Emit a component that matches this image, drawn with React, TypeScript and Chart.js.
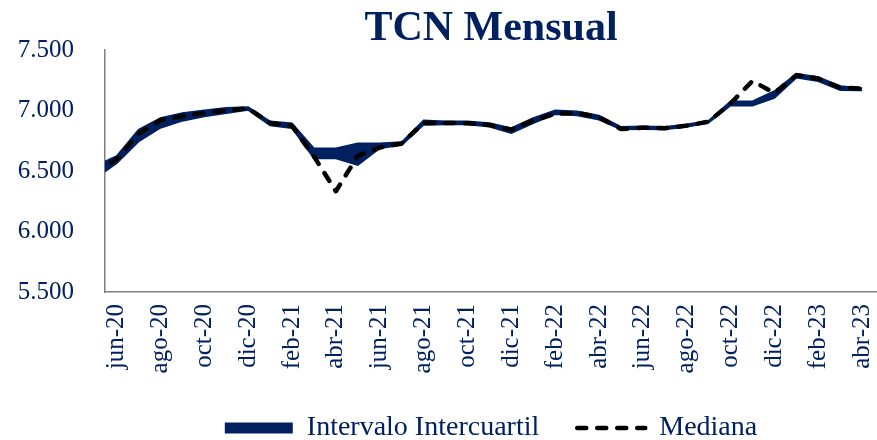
import React, { useEffect, useRef } from "react";
import { Chart, registerables } from "chart.js";

Chart.register(...registerables);

const months = [
  "may-20", "jun-20", "jul-20", "ago-20", "sep-20", "oct-20", "nov-20", "dic-20",
  "ene-21", "feb-21", "mar-21", "abr-21", "may-21", "jun-21", "jul-21", "ago-21",
  "sep-21", "oct-21", "nov-21", "dic-21", "ene-22", "feb-22", "mar-22", "abr-22",
  "may-22", "jun-22", "jul-22", "ago-22", "sep-22", "oct-22", "nov-22", "dic-22",
  "ene-23", "feb-23", "mar-23", "abr-23",
];

const lowerQuartile = [
  6434, 6562, 6742, 6856, 6914, 6950, 6978, 7004,
  6875, 6853, 6603, 6603, 6548, 6687, 6712, 6881,
  6884, 6884, 6866, 6812, 6895, 6968, 6959, 6923,
  6844, 6846, 6844, 6864, 6899, 7039, 7039, 7103,
  7270, 7242, 7167, 7165,
];

const upperQuartile = [
  6538, 6625, 6842, 6938, 6980, 7002, 7022, 7029,
  6911, 6895, 6688, 6688, 6730, 6730, 6740, 6919,
  6911, 6911, 6896, 6855, 6938, 7002, 6994, 6958,
  6866, 6869, 6866, 6886, 6916, 7077, 7077, 7161,
  7305, 7277, 7202, 7185,
];

const median = [
  6480, 6597, 6808, 6920, 6953, 6980, 7000, 7019,
  6897, 6872, 6620, 6333, 6625, 6694, 6728, 6897,
  6897, 6895, 6881, 6842, 6917, 6972, 6980, 6944,
  6847, 6858, 6853, 6875, 6908, 7058, 7244, 7144,
  7292, 7264, 7189, 7181,
];

const yTicks = [5500, 6000, 6500, 7000, 7500];
const titleText = "TCN Mensual";
const bandLabel = "Intervalo Intercuartil";
const medianLabel = "Mediana";

const NAVY = "#002060";
const FONT = "'Liberation Serif', 'Times New Roman', serif";

const fmt = (v: number) => String(v).replace(/\B(?=(\d{3})+(?!\d))/g, ".");

export default function App() {
  const ref = useRef<HTMLCanvasElement | null>(null);

  useEffect(() => {
    document.body.style.margin = "0";
    const canvas = ref.current;
    if (!canvas) return;
    const pts = (arr: number[]) => arr.map((v, i) => ({ x: i, y: v }));

    const chart = new Chart(canvas, {
      type: "line",
      data: {
        datasets: [
          {
            label: medianLabel,
            data: pts(median),
            borderColor: "#000000",
            borderWidth: 4.5,
            borderDash: [9, 11],
            borderCapStyle: "round",
            borderJoinStyle: "round",
            pointRadius: 0,
            fill: false,
            tension: 0,
            clip: 0,
            order: 0,
          },
          {
            label: "lower",
            data: pts(lowerQuartile),
            borderColor: NAVY,
            borderWidth: 1.5,
            pointRadius: 0,
            fill: false,
            tension: 0,
            clip: 0,
            order: 1,
          },
          {
            label: bandLabel,
            data: pts(upperQuartile),
            borderColor: NAVY,
            backgroundColor: NAVY,
            borderWidth: 1.5,
            pointRadius: 0,
            fill: "-1",
            tension: 0,
            clip: 0,
            order: 2,
          },
        ],
      },
      options: {
        responsive: false,
        animation: false,
        layout: { padding: { left: 0, right: 0, top: 0, bottom: -12 } },
        scales: {
          x: {
            type: "linear",
            min: 0.47,
            max: 35.68,
            afterBuildTicks: (scale: any) => {
              scale.ticks = months
                .map((_, i) => i)
                .filter((i) => i % 2 === 1)
                .map((v) => ({ value: v }));
            },
            afterFit: (scale: any) => {
              scale.height = 84;
              scale.paddingLeft = 0;
              scale.paddingRight = 0;
            },
            grid: { display: false, drawTicks: false },
            border: { display: true, color: "#7f7f7f", width: 1.5 },
            ticks: {
              autoSkip: false,
              minRotation: 90,
              maxRotation: 90,
              padding: 12,
              color: NAVY,
              font: { family: FONT, size: 25 },
              callback: (value: any) => months[Math.round(Number(value))] ?? "",
            },
          },
          y: {
            min: yTicks[0],
            max: yTicks[yTicks.length - 1],
            afterBuildTicks: (scale: any) => {
              scale.ticks = yTicks.map((v) => ({ value: v }));
            },
            afterFit: (scale: any) => {
              scale.width = 105;
              scale.paddingTop = 0;
              scale.paddingBottom = 0;
            },
            grid: { display: false, drawTicks: false },
            border: { display: true, color: "#7f7f7f", width: 1.5 },
            ticks: {
              padding: 31,
              color: NAVY,
              font: { family: FONT, size: 25 },
              callback: (value: any) => fmt(Number(value)),
            },
          },
        },
        plugins: {
          title: {
            display: true,
            text: titleText,
            color: NAVY,
            fullSize: false,
            font: { family: FONT, size: 42, weight: "bold", lineHeight: 1 },
            padding: { top: 8, bottom: 0 },
          },
          legend: {
            display: true,
            position: "bottom",
            fullSize: false,
            labels: {
              usePointStyle: true,
              pointStyleWidth: 68,
              boxHeight: 11,
              padding: 38,
              color: NAVY,
              font: { family: FONT, size: 28 },
              generateLabels: () => [
                {
                  text: bandLabel,
                  fillStyle: NAVY,
                  strokeStyle: NAVY,
                  lineWidth: 0,
                  pointStyle: "rect",
                  hidden: false,
                  datasetIndex: 2,
                  fontColor: NAVY,
                },
                {
                  text: medianLabel,
                  fillStyle: "#000000",
                  strokeStyle: "#000000",
                  lineWidth: 4.5,
                  lineDash: [9, 11],
                  lineCap: "round",
                  pointStyle: "line",
                  hidden: false,
                  datasetIndex: 0,
                  fontColor: NAVY,
                },
              ],
            },
          },
          tooltip: { enabled: false },
        },
      } as any,
    });

    return () => chart.destroy();
  }, []);

  return (
    <div style={{ width: 877, height: 440 }}>
      <canvas ref={ref} width={877} height={440} style={{ display: "block" }} />
    </div>
  );
}
